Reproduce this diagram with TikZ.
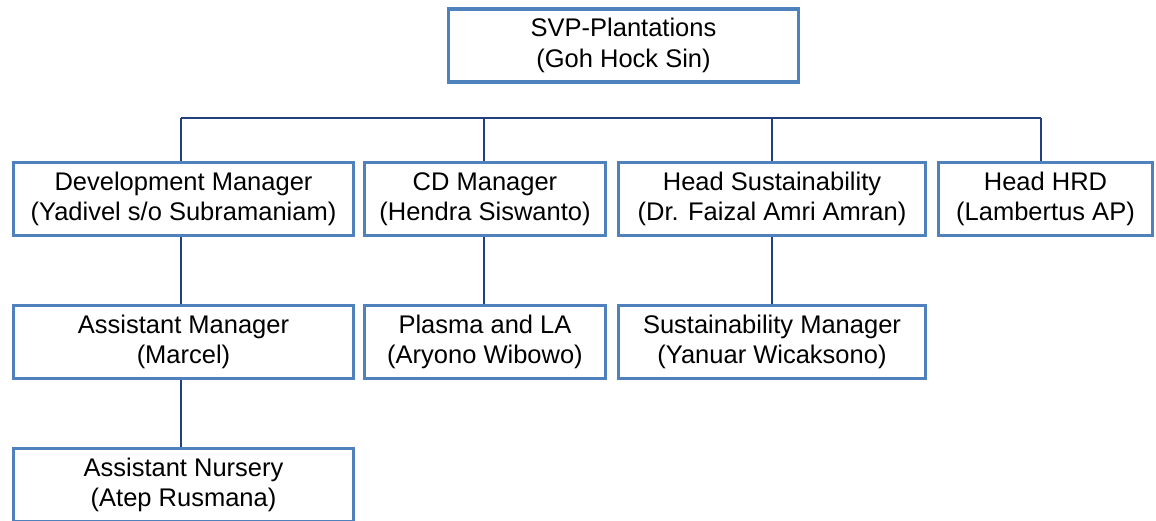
\documentclass[tikz,border=0pt]{standalone}
\usepackage{fontspec}
\setmainfont{Liberation Sans}
\definecolor{boxblue}{HTML}{4F81BD}
\definecolor{linenavy}{HTML}{23407E}
\begin{document}
\begin{tikzpicture}[x=1pt,y=-1pt,
  orgbox/.style={draw=boxblue, line width=3.2pt, fill=white, rectangle, minimum height=73pt,
    align=center, font=\fontsize{25.5}{30.5}\selectfont, inner sep=0pt},
  conn/.style={draw=linenavy, line width=1.2pt}]
\useasboundingbox (0,0) rectangle (1156,520);
\clip (0,0) rectangle (1156,520);
\fill[white] (0,0) rectangle (1156,520);
% nodes
\node[orgbox, minimum width=350pt] (top) at (623.5,45.5) {SVP-Plantations\\(Goh Hock Sin)};
\node[orgbox, minimum width=340pt] (dev) at (183.5,199) {Development Manager\\(Yadivel s/o Subramaniam)};
\node[orgbox, minimum width=241pt] (cd) at (485,199) {CD Manager\\(Hendra Siswanto)};
\node[orgbox, minimum width=307pt] (sus) at (772,199) {Head Sustainability\\(Dr. Faizal Amri Amran)};
\node[orgbox, minimum width=214pt] (hrd) at (1045.5,199) {Head HRD\\(Lambertus AP)};
\node[orgbox, minimum width=340pt] (asm) at (183.5,342) {Assistant Manager\\(Marcel)};
\node[orgbox, minimum width=241pt] (pla) at (485,342) {Plasma and LA\\(Aryono Wibowo)};
\node[orgbox, minimum width=307pt] (sm) at (772,342) {Sustainability Manager\\(Yanuar Wicaksono)};
\node[orgbox, minimum width=340pt] (nur) at (183.5,485) {Assistant Nursery\\(Atep Rusmana)};
% connectors
\coordinate (busL) at (181,118);
\coordinate (busR) at (1041,118);
\coordinate (busB) at (484,118);
\coordinate (busC) at (772,118);
\draw[conn] (busL) -- (busR);
\draw[conn] (busL) -- (busL |- dev.north);
\draw[conn] (busB) -- (busB |- cd.north);
\draw[conn] (busC) -- (busC |- sus.north);
\draw[conn] (busR) -- (busR |- hrd.north);
\draw[conn] (busL |- dev.south) -- (busL |- asm.north);
\draw[conn] (busB |- cd.south) -- (busB |- pla.north);
\draw[conn] (busC |- sus.south) -- (busC |- sm.north);
\draw[conn] (busL |- asm.south) -- (busL |- nur.north);
\end{tikzpicture}
\end{document}
